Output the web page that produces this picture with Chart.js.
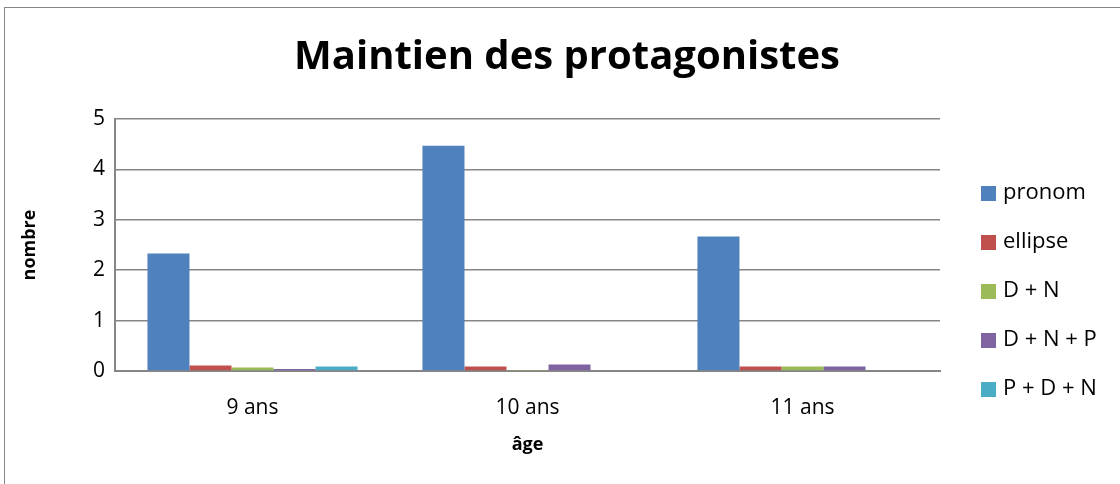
<!DOCTYPE html>
<html>
<head>
<meta charset="utf-8">
<script src="https://cdn.jsdelivr.net/npm/chart.js@4"></script>
<style>
  body{margin:0;background:#fff;}
  #frame{position:absolute;left:4px;top:7px;width:1200px;height:600px;border:1px solid #868686;box-sizing:border-box;}
  #wrap{position:absolute;left:0;top:0;width:1120px;height:484px;}
</style>
</head>
<body>
<div id="frame"></div>
<div id="wrap"><canvas id="c" width="1120" height="484"></canvas></div>
<script>
// data
const ages = ['9 ans', '10 ans', '11 ans'];
const pronom = [2.33, 4.47, 2.67];
const ellipse = [0.11, 0.09, 0.09];
const dn = [0.07, 0.01, 0.09];
const dnp = [0.04, 0.13, 0.09];
const pdn = [0.09, 0, 0];
const yTicks = [0, 1, 2, 3, 4, 5];
const chartTitle = 'Maintien des protagonistes';

const font = "'Open Sans', 'Liberation Sans', sans-serif";
function ds(label, data, color){
  return { label, data, backgroundColor: color, borderWidth: 0,
    categoryPercentage: .764, barPercentage: 1 };
}

// title + legend drawn by hand so they sit where Excel put them
const excelBits = {
  id: 'excelBits',
  afterDraw(chart){
    const {ctx, chartArea} = chart;
    ctx.save();
    ctx.textBaseline = 'middle';
    ctx.fillStyle = '#000';
    ctx.textAlign = 'center';
    ctx.font = 'bold 40px ' + font;
    ctx.fillText(chartTitle, 567, 58);
    ctx.textAlign = 'left';
    ctx.font = '22px ' + font;
    chart.data.datasets.forEach((d, i) => {
      const y = chartArea.top + 74 + i * 49;
      const x = chartArea.right + 41;
      ctx.fillStyle = d.backgroundColor;
      ctx.fillRect(x, y - 7, 15, 15);
      ctx.fillStyle = '#000';
      ctx.fillText(d.label, x + 22, y);
    });
    ctx.restore();
  }
};

new Chart(document.getElementById('c'), {
  type: 'bar',
  data: { labels: ages, datasets: [
    ds('pronom', pronom, '#4f81bd'),
    ds('ellipse', ellipse, '#c0504d'),
    ds('D + N', dn, '#9bbb59'),
    ds('D + N + P', dnp, '#8064a2'),
    ds('P + D + N', pdn, '#4bacc6')
  ]},
  plugins:[excelBits],
  options:{
    responsive:false, animation:false,
    layout:{padding:{left:15, right:180, top:119, bottom:0}},
    plugins:{
      legend:{display:false},
      tooltip:{enabled:false}
    },
    scales:{
      x:{grid:{display:false, drawTicks:false}, border:{color:'#868686', width:2},
        afterFit: s => { s.height = 113; },
        ticks:{color:'#000', font:{family:font, size:21}, padding:24},
        title:{display:true, text:'âge', color:'#000', font:{family:font, size:18, weight:'bold'}, padding:{top:14, bottom:28}}},
      y:{min:0, max:5, afterBuildTicks: a => { a.ticks = yTicks.map(v => ({value:v})); },
        afterFit: s => { s.width = 100; },
        grid:{color:'#868686', lineWidth:1.5, drawTicks:false},
        border:{color:'#868686', width:2},
        ticks:{color:'#000', font:{family:font, size:21}, padding:10},
        title:{display:true, text:'nombre', color:'#000', font:{family:font, size:18, weight:'bold'}}}
    }
  }
});
</script>
</body>
</html>
